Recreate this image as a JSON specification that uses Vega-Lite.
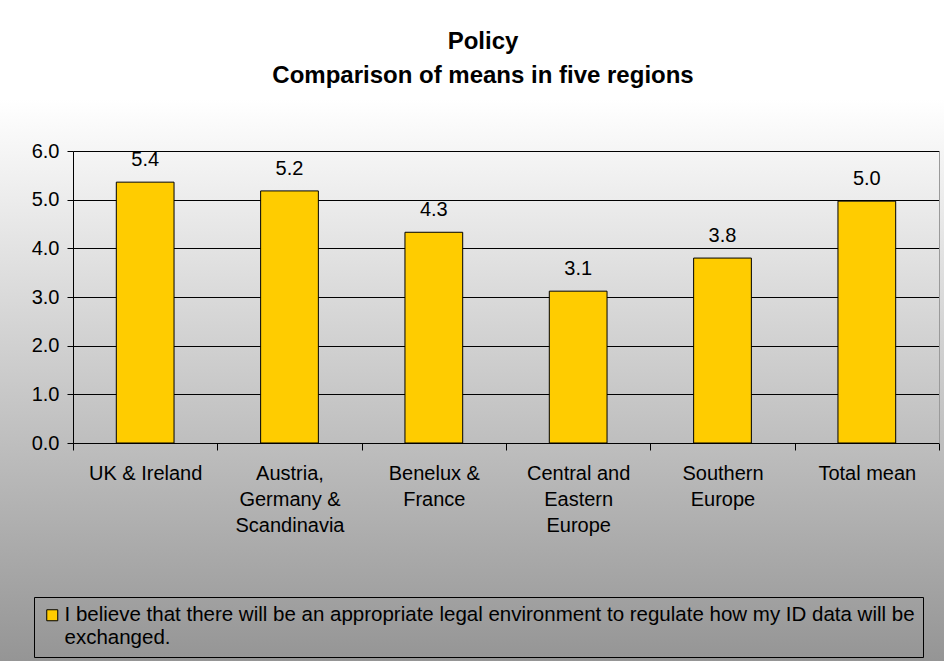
{
  "$schema": "https://vega.github.io/schema/vega-lite/v6.json",
  "width": 944,
  "height": 661,
  "autosize": {"type": "none"},
  "padding": 0,
  "background": "#ffffff",
  "config": {
    "font": "Liberation Sans",
    "view": {
      "stroke": null,
      "fill": {
        "gradient": "linear",
        "x1": 0, "y1": 0, "x2": 0, "y2": 1,
        "stops": [
          {"offset": 0, "color": "#ffffff"},
          {"offset": 0.15, "color": "#ffffff"},
          {"offset": 1, "color": "#959595"}
        ]
      }
    }
  },
  "title": {
    "text": ["Policy", "Comparison of means in five regions"],
    "fontSize": 24,
    "fontWeight": "bold",
    "color": "#000000",
    "anchor": "middle",
    "baseline": "alphabetic",
    "lineHeight": 34,
    "offset": -107,
    "dx": 11
  },
  "data": {
    "values": [
      {"region": "UK & Ireland", "mean": 5.36},
      {"region": "Austria, Germany & Scandinavia", "mean": 5.18},
      {"region": "Benelux & France", "mean": 4.33},
      {"region": "Central and Eastern Europe", "mean": 3.12},
      {"region": "Southern Europe", "mean": 3.8},
      {"region": "Total mean", "mean": 4.97}
    ]
  },
  "encoding": {
    "x": {
      "field": "region",
      "type": "nominal",
      "sort": null,
      "scale": {"type": "band", "range": [73, 939], "paddingInner": 0, "paddingOuter": 0},
      "axis": {
        "title": null,
        "orient": "bottom",
        "offset": -218,
        "domainColor": "#000000",
        "tickColor": "#000000",
        "tickSize": 7,
        "tickBand": "extent",
        "grid": false,
        "labelAngle": 0,
        "labelFontSize": 20,
        "labelColor": "#000000",
        "labelLineHeight": 26,
        "labelPadding": 13,
        "labelLimit": 200,
        "labelExpr": "datum.value == 'Austria, Germany & Scandinavia' ? ['Austria,', 'Germany &', 'Scandinavia'] : datum.value == 'Benelux & France' ? ['Benelux &', 'France'] : datum.value == 'Central and Eastern Europe' ? ['Central and', 'Eastern', 'Europe'] : datum.value == 'Southern Europe' ? ['Southern', 'Europe'] : datum.value"
      }
    },
    "y": {
      "field": "mean",
      "type": "quantitative",
      "scale": {"domain": [0, 6], "range": [443, 151], "nice": false, "zero": true}
    }
  },
  "layer": [
    {
      "mark": {"type": "bar", "width": {"band": 0.4}, "stroke": "#000000", "strokeWidth": 1},
      "encoding": {
        "y": {
          "field": "mean",
          "type": "quantitative",
          "axis": {
            "title": null,
            "orient": "left",
            "offset": -73,
            "values": [0, 1, 2, 3, 4, 5, 6],
            "format": ".1f",
            "grid": true,
            "gridColor": "#000000",
            "gridOpacity": 1,
            "domainColor": "#000000",
            "tickColor": "#000000",
            "tickSize": 6,
            "labelPadding": 8,
            "labelFontSize": 20,
            "labelColor": "#000000"
          }
        },
        "color": {
          "datum": "I believe that there will be an appropriate legal environment to regulate how my ID data will be exchanged.",
          "type": "nominal",
          "scale": {"range": ["#FFCC00"]},
          "legend": {
            "orient": "none",
            "legendX": 34,
            "legendY": 597,
            "title": null,
            "strokeColor": "#000000",
            "padding": 8,
            "symbolType": "square",
            "symbolSize": 121,
            "symbolStrokeColor": "#000000",
            "symbolStrokeWidth": 1,
            "symbolOpacity": 1,
            "labelFontSize": 20.5,
            "labelColor": "#000000",
            "labelLimit": 1000,
            "labelOffset": 2,
            "labelExpr": "[trim(substring(datum.label, 0, indexof(datum.label, 'exchanged'))), substring(datum.label, indexof(datum.label, 'exchanged'))]"
          }
        }
      }
    },
    {
      "mark": {"type": "text", "fontSize": 20, "color": "#000000", "baseline": "alphabetic", "dy": -16},
      "encoding": {
        "y": {
          "field": "mean",
          "type": "quantitative",
          "axis": {
            "title": null,
            "orient": "right",
            "offset": -5,
            "labels": false,
            "ticks": false,
            "grid": false,
            "domainColor": "#9a9a9a"
          }
        },
        "text": {"field": "mean", "type": "quantitative", "format": ".1f"}
      }
    }
  ],
  "resolve": {"axis": {"y": "independent"}}
}
